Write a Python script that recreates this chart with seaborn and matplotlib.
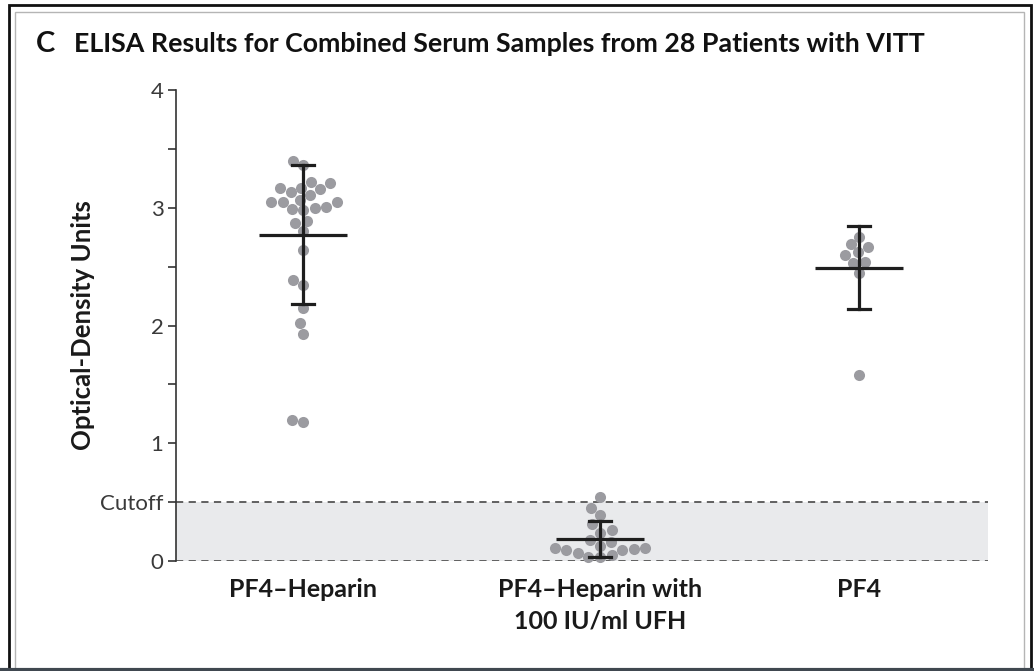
import matplotlib.pyplot as plt
from matplotlib.patches import Rectangle
from matplotlib.lines import Line2D
import pandas as pd
import seaborn as sns

# data (optical-density units)
groups = ['PF4–Heparin', 'PF4–Heparin with\n100 IU/ml UFH', 'PF4']
pf4_heparin = [3.36, 3.40, 3.22, 3.21, 3.16, 3.17, 3.17, 3.13, 3.07, 3.11,
               3.05, 3.05, 3.05, 3.00, 2.98, 3.01, 2.99, 2.87, 2.89, 2.80,
               2.64, 2.34, 2.39, 2.15, 2.02, 1.93, 1.20, 1.18]
pf4_heparin_ufh = [0.54, 0.45, 0.39, 0.31, 0.26, 0.18, 0.24, 0.16, 0.09,
                   0.07, 0.10, 0.13, 0.09, 0.11, 0.03, 0.03, 0.11, 0.05]
pf4 = [2.60, 2.69, 2.75, 2.67, 2.62, 2.54, 2.53, 2.45, 1.58]
cutoff = 0.5
ytick_vals = [0, 0.5, 1, 1.5, 2, 2.5, 3, 3.5, 4]
ytick_labels = ['0', 'Cutoff', '1', '', '2', '', '3', '', '4']

# layout: where the three groups sit on the x axis
group_x = [0, 1, 1.872]

df = pd.DataFrame({
    'group': [groups[0]] * len(pf4_heparin) + [groups[1]] * len(pf4_heparin_ufh)
             + [groups[2]] * len(pf4),
    'od': pf4_heparin + pf4_heparin_ufh + pf4,
})
df['x'] = df['group'].map(dict(zip(groups, group_x)))

plt.rcParams['font.family'] = ['Lato', 'DejaVu Sans']

fig = plt.figure(figsize=(10.34, 6.71), dpi=100)
ax = fig.add_axes([176 / 1034, 1 - 561 / 671, 812 / 1034, 471 / 671])

# cutoff band
ax.axhspan(0, cutoff, color='#e9eaec', zorder=0, lw=0)
for yv in (0, cutoff):
    ax.axhline(yv, color='#555555', lw=1.3, ls=(0, (4, 3)), zorder=1.5)

sns.swarmplot(data=df, x='x', y='od', native_scale=True, color='#9b9ba0',
              size=8, linewidth=0, ax=ax, zorder=1.8, clip_on=False)

sns.pointplot(data=df, x='x', y='od', native_scale=True, estimator='mean',
              errorbar='sd', capsize=0.085, color='#1e1e1e',
              linestyle='none', marker='_', markersize=64,
              markeredgewidth=2.3, err_kws={'linewidth': 2.3}, ax=ax)

ax.set_xlim(-0.428, 2.306)
ax.set_ylim(0, 4)
for s in ['top', 'right', 'bottom']:
    ax.spines[s].set_visible(False)
ax.spines['left'].set_bounds(0, 4)
ax.spines['left'].set_linewidth(1.2)
ax.spines['left'].set_color('#333333')

ax.set_yticks(ytick_vals)
ax.set_yticklabels(ytick_labels)
ax.tick_params(axis='y', length=6, width=1.2, color='#333333',
               labelsize=16, labelcolor='#3a3a3a', pad=3)
ax.set_xticks(group_x)
ax.set_xticklabels(groups, fontsize=18, fontweight='bold', color='#1a1a1a',
                   linespacing=1.45)
ax.tick_params(axis='x', length=0, pad=12)
ax.set_xlabel('')
ax.set_ylabel('Optical-Density Units', fontsize=18.5, fontweight='bold',
              color='#1a1a1a')
ax.yaxis.set_label_coords(-0.10, 0.5)

# panel title
fig.text(36 / 1034, 1 - 52 / 671, 'C', fontsize=21, fontweight='bold',
         va='baseline', color='#111111')
fig.text(74 / 1034, 1 - 52 / 671,
         'ELISA Results for Combined Serum Samples from 28 Patients with VITT',
         fontsize=19.3, fontweight='bold', va='baseline', color='#111111')

# frame around the panel
fig.add_artist(Rectangle((8.5 / 1034, 2 / 671), 1022 / 1034, 664.5 / 671,
                         transform=fig.transFigure, fill=False,
                         ec='#111111', lw=2))
fig.add_artist(Rectangle((15 / 1034, 2 / 671), 1009 / 1034, 657 / 671,
                         transform=fig.transFigure, fill=False,
                         ec='#b5b5b5', lw=1))
fig.add_artist(Line2D([0, 1], [1 / 671, 1 / 671], transform=fig.transFigure,
                      color='#404850', lw=3))

fig.savefig('out.png', dpi=100)
